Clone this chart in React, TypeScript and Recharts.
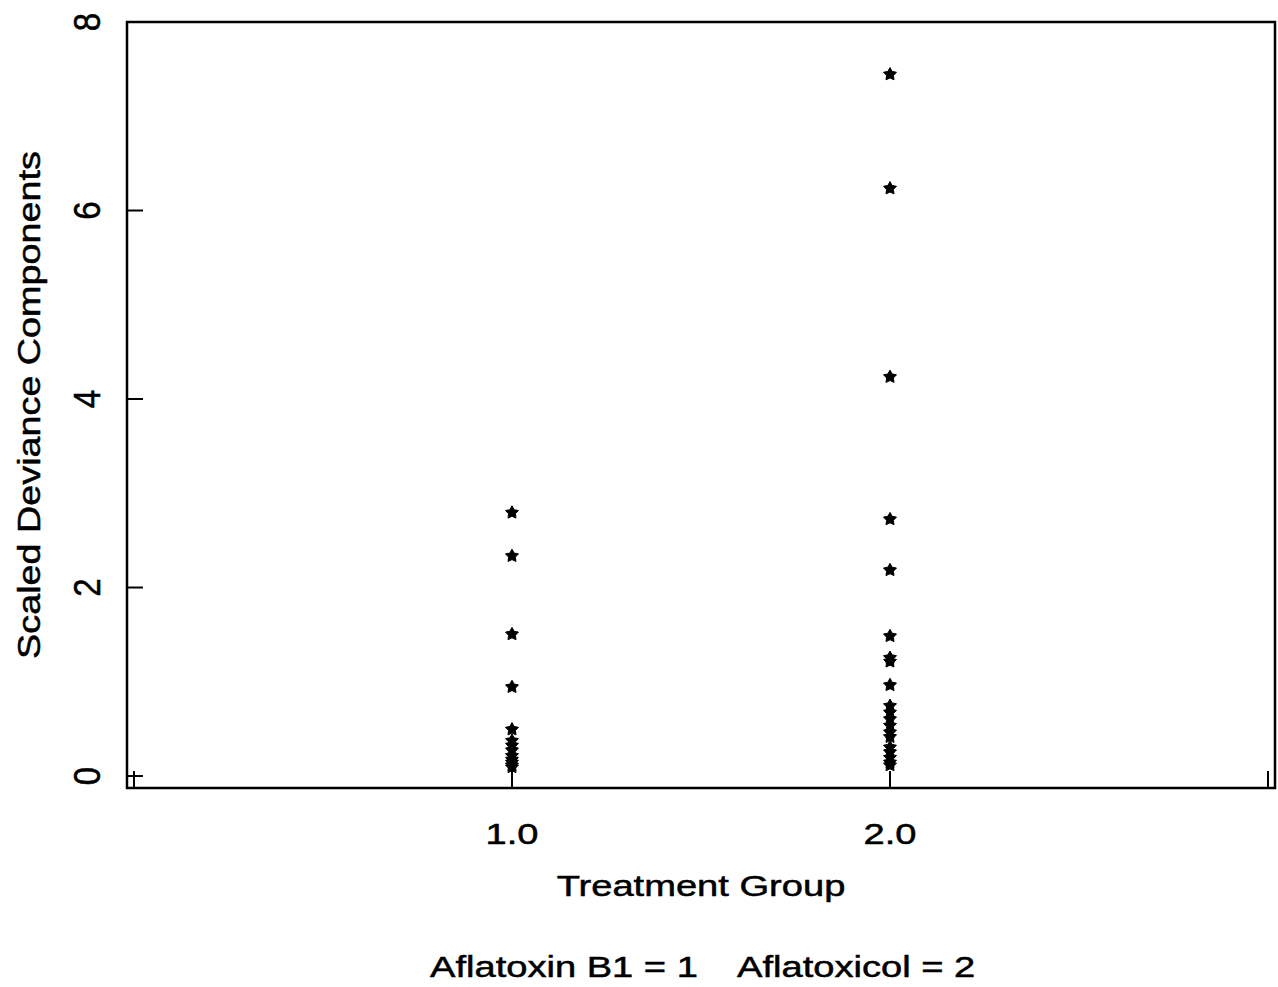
import React from "react";
import { ScatterChart, Scatter, XAxis, YAxis, ReferenceArea, Label } from "recharts";

// Scaled deviance components per treatment group
const aflatoxinB1 = [2.8, 2.34, 1.51, 0.95, 0.5, 0.38, 0.33, 0.28, 0.22, 0.18, 0.15, 0.12, 0.1];
const aflatoxicol = [
    7.45, 6.24, 4.24, 2.73, 2.19, 1.49, 1.26, 1.22, 0.97, 0.75, 0.68, 0.61, 0.54, 0.47, 0.42,
    0.31, 0.26, 0.2, 0.15, 0.12,
];
const xTicks = [0, 1, 2, 3];
const xTickLabels = ["", "1.0", "2.0", ""];
const yTicks = [0, 2, 4, 6, 8];
const yTickLabels = ["0", "2", "4", "6", "8"];

const FONT = "'Liberation Sans', Arial, Helvetica, sans-serif";
const X_DOMAIN: [number, number] = [-0.0185, 3.0185];
const Y_DOMAIN: [number, number] = [-0.127, 8];

const data = [
    ...aflatoxinB1.map((v) => ({ x: 1, y: v })),
    ...aflatoxicol.map((v) => ({ x: 2, y: v })),
];

// shared look for the scanned, slightly heavy lettering
const textStyle = { fontFamily: FONT, fill: "#000", stroke: "#000", strokeWidth: 0.5 };

/** Filled five-point star, like the old S-PLUS "*" symbol. */
const StarShape = (props: any) => {
    const { cx, cy } = props;
    if (cx == null || cy == null) return null;
    const outer = 6.8;
    const inner = 3.6;
    const pts: string[] = [];
    for (let i = 0; i < 10; i++) {
        const r = i % 2 === 0 ? outer : inner;
        const a = -Math.PI / 2 + (i * Math.PI) / 5;
        pts.push(`${cx + r * Math.cos(a)},${cy + 0.5 + r * Math.sin(a)}`);
    }
    return <polygon points={pts.join(" ")} fill="#000" stroke="#000" strokeWidth={1} strokeLinejoin="round" />;
};

const XTick = (props: any) => {
    const { x, y, payload } = props;
    const label = xTickLabels[xTicks.indexOf(payload.value)];
    return (
        <g>
            <line x1={x} y1={y} x2={x} y2={y - 17} stroke="#000" strokeWidth={2} />
            {label ? (
                <text
                    transform={`translate(${x},${y + 56}) scale(1.27,1)`}
                    textAnchor="middle"
                    fontSize={30}
                    {...textStyle}
                >
                    {label}
                </text>
            ) : null}
        </g>
    );
};

const YTick = (props: any) => {
    const { x, y, payload } = props;
    const label = yTickLabels[yTicks.indexOf(payload.value)];
    return (
        <g>
            <line x1={x} y1={y} x2={x + 16} y2={y} stroke="#000" strokeWidth={2} />
            <text
                transform={`translate(${x - 27},${y}) rotate(-90) scale(1,1.1)`}
                textAnchor="middle"
                fontSize={33}
                {...textStyle}
            >
                {label}
            </text>
        </g>
    );
};

const YTitle = () => (
    <text
        transform="translate(40,405) rotate(-90) scale(1.18,1)"
        textAnchor="middle"
        fontSize={32}
        {...textStyle}
    >
        Scaled Deviance Components
    </text>
);

const XTitle = () => (
    <g>
        <text transform="translate(701,896) scale(1.27,1)" textAnchor="middle" fontSize={30} {...textStyle}>
            Treatment Group
        </text>
        <text transform="translate(430,977) scale(1.27,1)" textAnchor="start" fontSize={30} {...textStyle}>
            Aflatoxin B1 = 1
        </text>
        <text transform="translate(737,977) scale(1.27,1)" textAnchor="start" fontSize={30} {...textStyle}>
            Aflatoxicol = 2
        </text>
    </g>
);

export default function App() {
    return (
        <div style={{ position: "absolute", left: 0, top: 0, width: 1278, height: 987, background: "#fff" }}>
            <ScatterChart width={1278} height={987} margin={{ top: 22, right: 3, left: 0, bottom: 0 }}>
                <XAxis
                    type="number"
                    dataKey="x"
                    domain={X_DOMAIN}
                    ticks={xTicks}
                    interval={0}
                    allowDataOverflow
                    height={199}
                    axisLine={false}
                    tickLine={false}
                    tickSize={0}
                    tickMargin={0}
                    tick={<XTick />}
                >
                    <Label content={<XTitle />} />
                </XAxis>
                <YAxis
                    type="number"
                    dataKey="y"
                    domain={Y_DOMAIN}
                    ticks={yTicks}
                    interval={0}
                    allowDataOverflow
                    width={127}
                    axisLine={false}
                    tickLine={false}
                    tickSize={0}
                    tickMargin={0}
                    tick={<YTick />}
                >
                    <Label content={<YTitle />} />
                </YAxis>
                <ReferenceArea
                    x1={X_DOMAIN[0]}
                    x2={X_DOMAIN[1]}
                    y1={Y_DOMAIN[0]}
                    y2={Y_DOMAIN[1]}
                    fill="none"
                    stroke="#000"
                    strokeWidth={2.5}
                    ifOverflow="visible"
                />
                <Scatter data={data} shape={<StarShape />} isAnimationActive={false} />
            </ScatterChart>
        </div>
    );
}
